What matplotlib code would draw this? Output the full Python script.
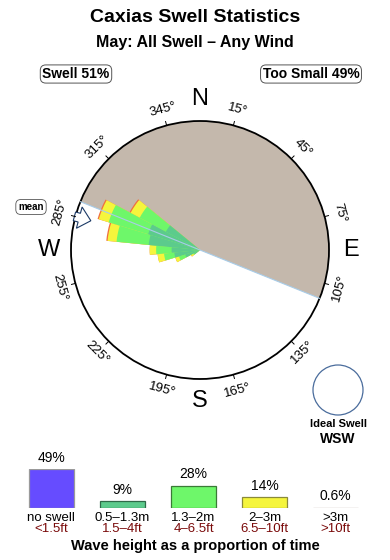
import numpy as np
import matplotlib.pyplot as plt
from matplotlib.patches import Wedge, Circle, FancyArrow

plt.rcParams['font.family'] = ['Liberation Sans', 'DejaVu Sans']

# swell rose: direction bins (deg) and cumulative radius (fraction of circle) per band
directions = [236.25, 247.5, 258.75, 270.0, 281.25, 292.5, 303.75]
band_small = [0.05, 0.12, 0.20, 0.22, 0.40, 0.42, 0.30]   # 0.5-1.3m
band_mid = [0.06, 0.17, 0.28, 0.34, 0.65, 0.74, 0.53]     # 1.3-2m
band_big = [0.08, 0.20, 0.33, 0.39, 0.72, 0.82, 0.61]     # 2-3m
band_huge = [0.08, 0.20, 0.33, 0.39, 0.73, 0.83, 0.62]    # >3m
bin_width = 11.25
shore_start = 292
mean_dir = 285

deg_labels = [345, 15, 45, 75, 105, 135, 165, 195, 225, 255, 285, 315]

# wave height distribution
cats = ['no swell', '0.5\u20131.3m', '1.3\u20132m', '2\u20133m', '>3m']
cats_ft = ['<1.5ft', '1.5\u20134ft', '4\u20136.5ft', '6.5\u201310ft', '>10ft']
pcts = [49, 9, 28, 14, 0.6]
pct_txt = ['49%', '9%', '28%', '14%', '0.6%']
bar_colors = ['#664cff', '#5ccb8c', '#6ef76a', '#f5f53c', '#e86040']
bar_edges = ['#9a9a9a', '#2f6a48', '#3a7a36', '#8a8a3a', '#a89c94']
band_colors = {'huge': '#f07040', 'big': '#f5f53c', 'mid': '#6ef76a', 'small': '#5ccb8c'}

fig = plt.figure(figsize=(3.9, 5.6), dpi=100)
ax = fig.add_axes([0, 0, 1, 1])
ax.set_xlim(0, 390)
ax.set_ylim(560, 0)
ax.axis('off')

cx, cy, R = 200, 250, 129


def pos(b, r):
    t = np.radians(b)
    return cx + r * np.sin(t), cy - r * np.cos(t)


# titles
ax.text(195, 18, 'Caxias Swell Statistics', ha='center', va='center',
        fontsize=14, fontweight='bold')
ax.text(195, 42, 'May: All Swell \u2013 Any Wind', ha='center', va='center',
        fontsize=11.5, fontweight='bold')
box = dict(boxstyle='round,pad=0.15,rounding_size=0.4', fc='white', ec='#555555', lw=0.7)
ax.text(76, 74, 'Swell 51%', ha='center', va='center', fontsize=10,
        fontweight='bold', bbox=box)
ax.text(311, 74, 'Too Small 49%', ha='center', va='center', fontsize=10,
        fontweight='bold', bbox=box)

# shore side
ax.add_patch(Wedge((cx, cy), R, shore_start - 90, shore_start + 90, fc='#c4b8ac', ec='none'))
x1, y1 = pos(shore_start, R)
x2, y2 = pos(shore_start + 180, R)
ax.plot([x1, x2], [y1, y2], color='#a8cce8', lw=0.8)

# rose, drawn band by band from the outside in
for key, band in [('huge', band_huge), ('big', band_big), ('mid', band_mid),
                  ('small', band_small)]:
    for d, r in zip(directions, band):
        ax.add_patch(Wedge((cx, cy), r * R, d - bin_width / 2 - 90,
                           d + bin_width / 2 - 90, fc=band_colors[key], ec='none'))

ax.add_patch(Circle((cx, cy), R, fill=False, ec='black', lw=1.3))

# degree ticks and labels
for b in deg_labels:
    xa, ya = pos(b, R)
    xb, yb = pos(b, R + 4)
    ax.plot([xa, xb], [ya, yb], color='black', lw=0.7)
    if 90 < b < 270:
        rot = 180 - b
    else:
        rot = (-b + 180) % 360 - 180
    xt, yt = pos(b, R + 16)
    ax.text(xt, yt, f'{b}\u00b0', ha='center', va='center', rotation=rot,
            fontsize=9.5, rotation_mode='anchor')

for lab, b in zip(['N', 'E', 'S', 'W'], [0, 90, 180, 270]):
    xt, yt = pos(b, R + 22)
    ax.text(xt, yt, lab, ha='center', va='center', fontsize=17)

# mean direction arrow
xs, ys = pos(mean_dir, R + 1)
xe, ye = pos(mean_dir, R - 16)
ax.add_patch(FancyArrow(xs, ys, xe - xs, ye - ys, width=9, head_width=22,
                        head_length=12, length_includes_head=True,
                        fc='white', ec='#1c3a66', lw=0.8))
ax.text(31, 207, 'mean', ha='center', va='center', fontsize=7, fontweight='bold',
        bbox=dict(boxstyle='round,pad=0.25,rounding_size=0.5', fc='white',
                  ec='#555555', lw=0.6))

# ideal swell
ax.add_patch(Circle((338, 390), 25, fill=False, ec='#4a6c9c', lw=0.9))
ax.text(338, 424, 'Ideal Swell', ha='center', va='center', fontsize=8, fontweight='bold')
ax.text(338, 439, 'WSW', ha='center', va='center', fontsize=10, fontweight='bold')

# bars
xc = [51, 122, 193.5, 264.5, 335]
ax2 = fig.add_axes([0, (560 - 508) / 560, 1, 39.2 / 560])
ax2.set_xlim(0, 390)
ax2.set_ylim(0, 49)
ax2.axis('off')
ax2.bar(xc, pcts, width=45, color=bar_colors, edgecolor=bar_edges, lw=0.9)
for x, v, t in zip(xc, pcts, pct_txt):
    ax2.annotate(t, (x, v), xytext=(0, 3), textcoords='offset points',
                 ha='center', va='bottom', fontsize=10, annotation_clip=False)

for x, c, f in zip(xc, cats, cats_ft):
    ax.text(x, 518, c, ha='center', va='center', fontsize=9.5)
    ax.text(x, 529.5, f, ha='center', va='center', fontsize=9.5, color='#7a0a0a')
ax.text(195, 546, 'Wave height as a proportion of time', ha='center', va='center',
        fontsize=10.5, fontweight='bold')

fig.savefig('out.png', dpi=100)
